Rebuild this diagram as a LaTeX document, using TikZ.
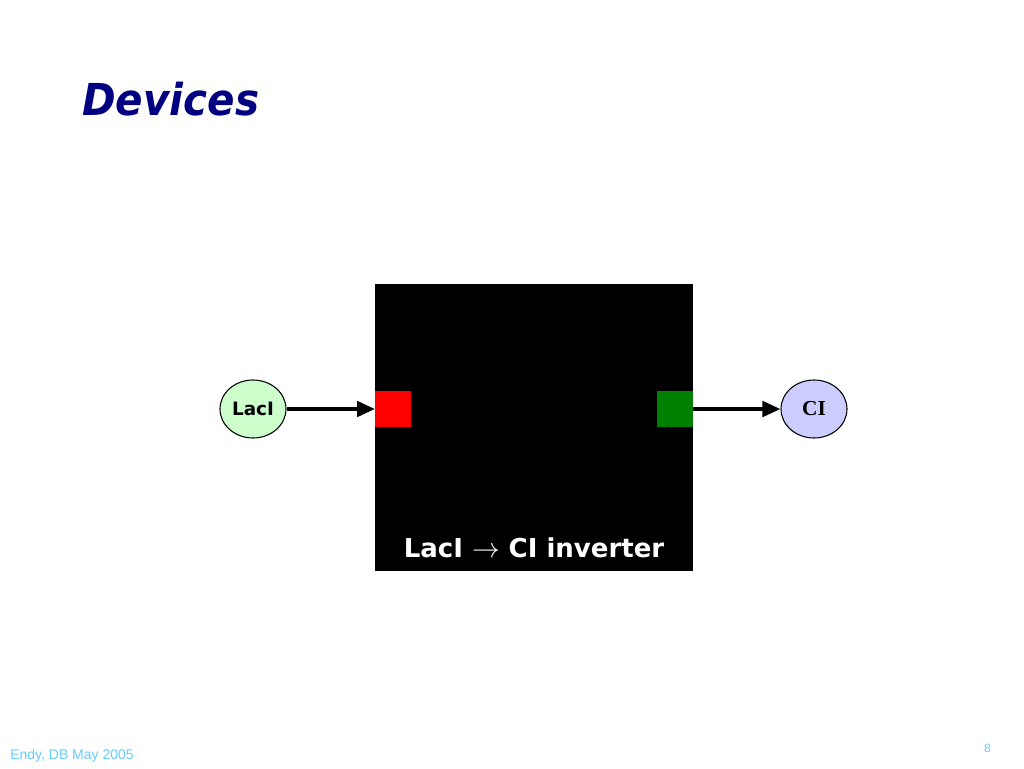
\documentclass[tikz,border=0pt]{standalone}
\usepackage{fontspec}
\setmainfont{DejaVu Sans}
\newfontfamily\titlefont[FakeStretch=0.92]{DejaVu Sans}
\newfontfamily\boxfont{DejaVu Sans}
\newfontfamily\cifont{Liberation Serif}
\newfontfamily\footfont{Liberation Sans}
\usetikzlibrary{arrows.meta,positioning,shapes.geometric}
\definecolor{titleblue}{RGB}{0,0,128}
\definecolor{lacgreen}{RGB}{204,255,204}
\definecolor{ciblue}{RGB}{204,204,255}
\definecolor{portgreen}{RGB}{0,128,0}
\definecolor{footblue}{RGB}{102,204,255}
\begin{document}
\begin{tikzpicture}[x=0.75pt,y=-0.75pt] % 1 unit = 1 pixel
\tikzstyle{protein} = [ellipse, draw, line width=0.8pt, minimum width=49.5pt, minimum height=43.5pt, inner sep=0pt] % signal species
\tikzstyle{device} = [rectangle, fill=black, minimum width=238.5pt, minimum height=215.25pt, inner sep=0pt] % black box
\tikzstyle{port} = [rectangle, minimum size=27pt, inner sep=0pt] % input / output port
\tikzstyle{flow} = [line width=3pt, -{Triangle[length=13.5pt, width=11.5pt]}] % signal arrow
\useasboundingbox (0,0) rectangle (1024,768);
\node[anchor=base west, inner sep=0pt, text=titleblue, font=\titlefont\fontsize{33}{40}\selectfont\bfseries\itshape] (title) at (82,115) {Devices};
\node[device] (inv) at (534,427.5) {}; % инвертор
\node[port, fill=red, anchor=west] (in) at (375,409) {};
\node[port, fill=portgreen, anchor=east] (out) at (693,409) {};
\node[protein, fill=lacgreen, font=\fontsize{13.8}{15}\selectfont\bfseries] (laci) at (253,409) {LacI};
\node[protein, fill=ciblue, font=\cifont\fontsize{16}{18}\selectfont\bfseries] (ci) at (814,409) {CI};
\draw[flow] (laci) -- (in);
\draw[flow] (out) -- (ci);
\node[anchor=base, inner sep=0pt, text=white, font=\boxfont\fontsize{19.5}{22}\selectfont\bfseries] (label) at (534,557) {LacI $\rightarrow$ CI inverter};
\node[anchor=base west, inner sep=0pt, text=footblue, font=\footfont\fontsize{10.5}{12}\selectfont] (foot) at (10,759) {Endy, DB May 2005};
\node[anchor=base east, inner sep=0pt, text=footblue, font=\footfont\fontsize{9}{11}\selectfont] (page) at (991,752) {8};
\end{tikzpicture}
\end{document}
